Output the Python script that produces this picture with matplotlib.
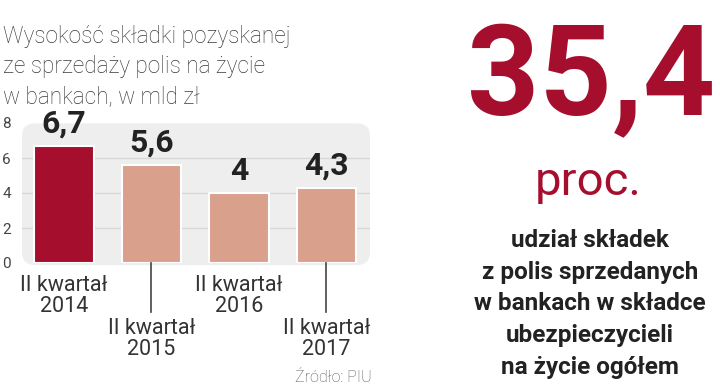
import matplotlib.pyplot as plt
from matplotlib.patches import FancyBboxPatch

# dane
years = ['2014', '2015', '2016', '2017']
values = [6.7, 5.6, 4.0, 4.3]
value_labels = ['6,7', '5,6', '4', '4,3']
yticks = [0, 2, 4, 6, 8]
big_number = '35,4'

dark_red = '#a50f2d'
salmon = '#d9a08b'
txt = '#333333'

plt.rcParams['font.family'] = ['Roboto', 'DejaVu Sans']

fig = plt.figure(figsize=(7.2, 3.88), dpi=100)
W, H = 720, 388

# axes: y=0 na pikselu 263, y=8 na pikselu 123
ax = fig.add_axes([22 / W, 1 - 263 / H, 348 / W, 140 / H])
ax.set_xlim(-0.48, 3.5)
ax.set_ylim(0, 8)
for s in ax.spines.values():
    s.set_visible(False)

bg = FancyBboxPatch((-0.48, -0.12), 3.98, 8.1,
                    boxstyle='round,pad=0,rounding_size=0.15',
                    mutation_aspect=5, fc='#eeeeee', ec='none',
                    zorder=0, clip_on=False)
ax.add_patch(bg)
for y in yticks[1:-1]:
    ax.axhline(y, color='#d8d8d8', lw=1, zorder=1)

x = list(range(len(values)))
colors = [dark_red] + [salmon] * (len(values) - 1)
ax.bar(x, values, width=0.68, color=colors, edgecolor='white', lw=1.5, zorder=2)

for xi, v, lab in zip(x, values, value_labels):
    ax.text(xi, v + 0.4, lab, ha='center', va='bottom', fontsize=23,
            fontweight='bold', color='#222222')

ax.set_xticks([])
ax.set_yticks(yticks)
ax.set_yticklabels([str(t) for t in yticks], fontsize=11, color='#444444')
ax.tick_params(axis='y', length=0, pad=8)

# etykiety kategorii
for xi, yr in zip(x, years):
    if xi % 2 == 0:
        ax.text(xi, -0.7, 'II kwartał\n' + yr, ha='center', va='top',
                fontsize=15.5, color=txt, linespacing=1.0)
    else:
        ax.plot([xi, xi], [0, -2.8], color='#444444', lw=1.2, clip_on=False)
        ax.text(xi, -3.15, 'II kwartał\n' + yr, ha='center', va='top',
                fontsize=15.5, color=txt, linespacing=1.0)

fig.text(372 / W, 1 - 377 / H, 'Źródło: PIU', ha='right', va='center',
         fontsize=11.5, color='#555555', fontweight='light')

fig.text(3 / W, 1 - 25 / H,
         'Wysokość składki pozyskanej\nze sprzedaży polis na życie\nw bankach, w mld zł',
         ha='left', va='top', fontsize=16.3, color='#3a3a3a',
         fontweight='light', linespacing=1.4)

# prawa strona
fig.text(591 / W, 1 - 115 / H, big_number, ha='center', va='baseline',
         fontsize=91, color=dark_red, fontweight='bold')
fig.text(588 / W, 1 - 195 / H, 'proc.', ha='center', va='baseline',
         fontsize=34, color=dark_red)
fig.text(590 / W, 1 - 304 / H,
         'udział składek\nz polis sprzedanych\nw bankach w składce\nubezpieczycieli\nna życie ogółem',
         ha='center', va='center', fontsize=17.5, fontweight='bold',
         color='#222222', linespacing=1.48)

fig.savefig('out.png', dpi=100)
